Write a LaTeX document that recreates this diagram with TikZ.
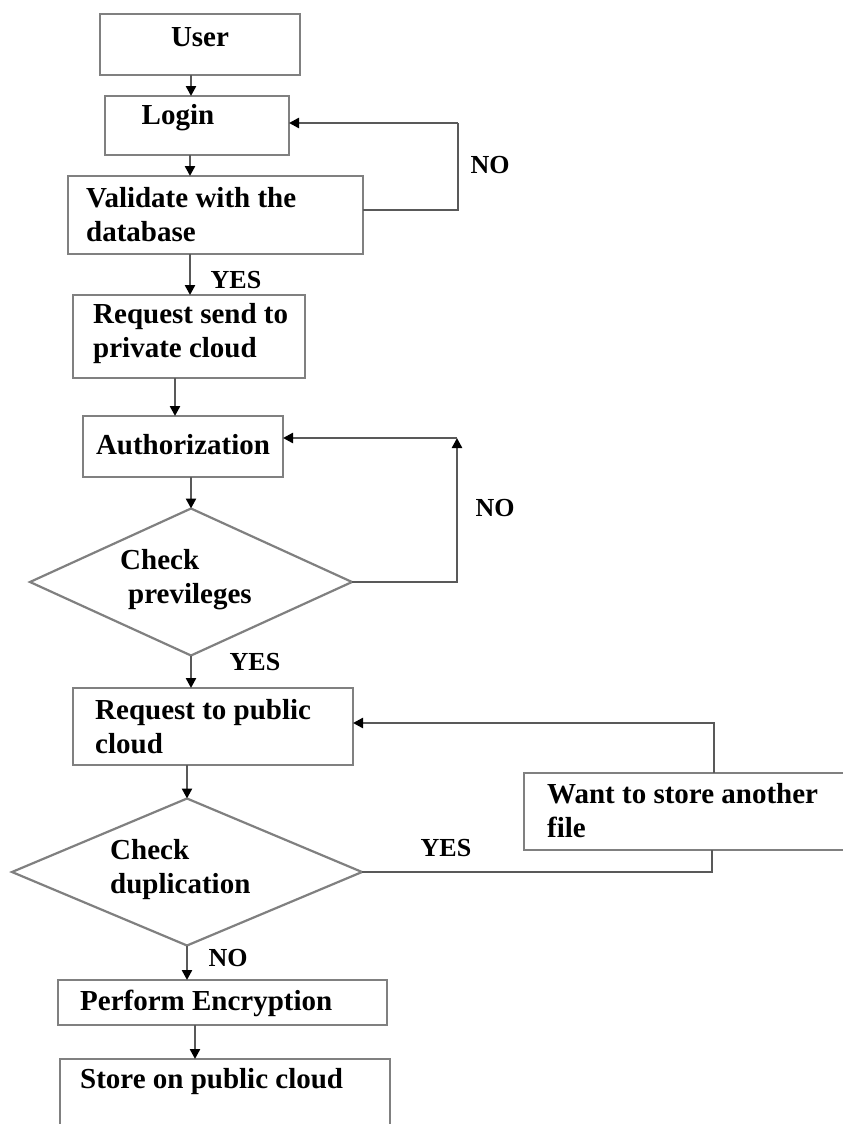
\documentclass[tikz,border=0pt]{standalone}
\usepackage{fontspec}
\setmainfont{Liberation Serif}
\usetikzlibrary{arrows.meta,shapes.geometric}
\begin{document}
\begin{tikzpicture}[x=1pt,y=-1pt,
  box/.style={draw=black!50,line width=2.6pt,inner sep=0pt,outer sep=0pt,rectangle},
  diam/.style={draw=black!50,line width=2.2pt,inner sep=0pt,outer sep=0pt,diamond},
  txt/.style={inner sep=0pt,align=left,font=\fontsize{29}{34}\selectfont\bfseries},
  lbl/.style={inner sep=0pt,font=\fontsize{26}{30}\selectfont\bfseries},
  conn/.style={draw=black!65,line width=2.4pt},
  arr/.style={conn,-{Triangle[length=10pt,width=10pt,fill=black,color=black]}}]
\useasboundingbox (0,0) rectangle (843,1124);
\fill[white] (0,0) rectangle (843,1124);
% boxes
\node[box,minimum width=200pt,minimum height=61pt] (user) at (200,44.5) {};
\node[box,minimum width=184pt,minimum height=59pt] (login) at (197,125.5) {};
\node[box,minimum width=295pt,minimum height=78pt] (valid) at (215.5,215) {};
\node[box,minimum width=232pt,minimum height=83pt] (reqp) at (189,336.5) {};
\node[box,minimum width=200pt,minimum height=61pt] (auth) at (183,446.5) {};
\node[diam,minimum width=322pt,minimum height=147pt] (chkp) at (191,582) {};
\node[box,minimum width=280pt,minimum height=77pt] (reqpub) at (213,726.5) {};
\node[diam,minimum width=350pt,minimum height=147pt] (chkd) at (187,872) {};
\node[box,minimum width=326pt,minimum height=77pt] (want) at (687,811.5) {};
\node[box,minimum width=329pt,minimum height=45pt] (enc) at (222.5,1002.5) {};
\node[box,minimum width=330pt,minimum height=81pt] (store) at (225,1099.5) {};
% texts
\node[txt] (tuser) at (200,37) {User};
\node[txt] (tlogin) at (178,118) {Login};
\node[txt,anchor=west] (tvalid) at (86,215) {Validate with the\\database};
\node[txt,anchor=west] (treqp) at (93,334) {Request send to\\private cloud};
\node[txt] (tauth) at (183,445) {Authorization};
\node[txt,anchor=west] (tchkp) at (120,580) {\hspace*{0pt}Check\\\hspace*{8pt}previleges};
\node[txt,anchor=west] (treqpub) at (95,727) {Request to public\\cloud};
\node[txt,anchor=west] (tchkd) at (110,870) {Check\\duplication};
\node[txt,anchor=west] (twant) at (547,811) {Want to store another\\file};
\node[txt,anchor=west] (tenc) at (80,1003) {Perform Encryption};
\node[txt,anchor=west] (tstore) at (80,1082) {Store on public cloud};
% labels
\node[lbl] (no1) at (490,165) {NO};
\node[lbl] (yes1) at (236,280) {YES};
\node[lbl] (no2) at (495,508) {NO};
\node[lbl] (yes2) at (255,662) {YES};
\node[lbl] (yes3) at (446,848) {YES};
\node[lbl] (no3) at (228,958) {NO};
% helper coordinates
\coordinate (c1a) at (458,210);
\coordinate (c1b) at (458,123);
\coordinate (c2b) at (457,438);
\coordinate (c3a) at (712,872);
\coordinate (c4a) at (714,773);
\coordinate (c4b) at (714,723);
% connectors
\draw[arr] (191,75) coordinate (u0) -- (u0 |- login.north);
\draw[arr] (190,155) coordinate (l0) -- (l0 |- valid.north);
\draw[arr] (190,254) coordinate (v0) -- (v0 |- reqp.north);
\draw[arr] (175,378) coordinate (r0) -- (r0 |- auth.north);
\draw[arr] (chkp.north |- auth.south) -- (chkp.north);
\draw[arr] (chkp.south) -- (chkp.south |- reqpub.north);
\draw[arr] (chkd.north |- reqpub.south) -- (chkd.north);
\draw[arr] (chkd.south) -- (chkd.south |- enc.north);
\draw[arr] (195,1025) coordinate (e0) -- (e0 |- store.north);
% NO loop 1
\draw[conn] (valid.east |- c1a) -- (c1a) -- (c1b);
\draw[arr] (c1b) -- (login.east |- c1b);
% NO loop 2
\draw[arr] (chkp.east) -| (c2b);
\draw[arr] (c2b) -- (auth.east |- c2b);
% YES loop
\draw[conn] (chkd.east) -- (c3a) -- (c3a |- want.south);
\draw[arr] (c4a) -- (c4b) -- (reqpub.east |- c4b);
\end{tikzpicture}
\end{document}
